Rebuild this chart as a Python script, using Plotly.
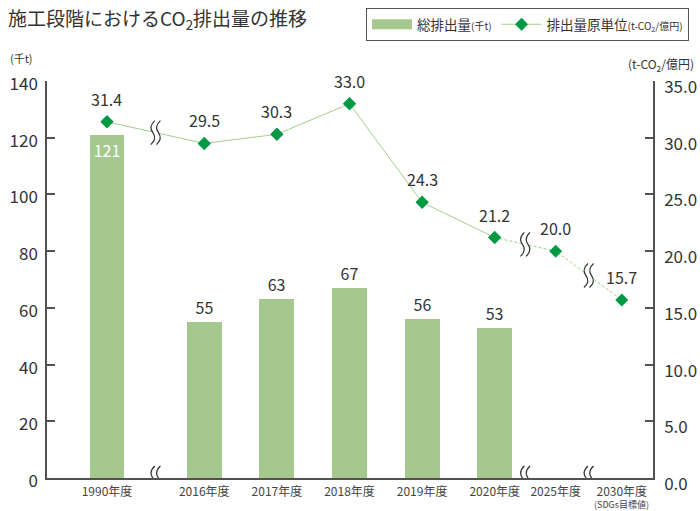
import plotly.graph_objects as go

# ---- data ----
categories = ["1990年度", "2016年度", "2017年度", "2018年度", "2019年度", "2020年度", "2025年度", "2030年度"]
tick_labels = ["1990年度", "2016年度", "2017年度", "2018年度", "2019年度", "2020年度", "2025年度", "2030年度"]
target_note = "(SDGs目標値)"
total_emissions = [121, 55, 63, 67, 56, 53]          # 千t (1990, 2016-2020)
intensity = [31.4, 29.5, 30.3, 33.0, 24.3, 21.2, 20.0, 15.7]  # t-CO2/億円
slot_pos = [0, 1.34, 2.34, 3.34, 4.34, 5.34, 6.18, 7.09]      # x slots (with axis breaks)

# ---- style ----
FONT = "Noto Sans CJK JP, Noto Sans, sans-serif"
TXT = "#333333"
AX = "#555050"
BAR = "#a5c88e"
LINE = "#a3d08a"
MARK = "#009a44"

L, R, T, B = 47, 47, 81, 33
W, H = 700, 511
pw, ph = W - L - R, H - T - B

def px_x(p):
    return (p - L) / pw

def px_y(p):
    return (H - B - p) / ph

fig = go.Figure()

n_bar = len(total_emissions)
bar_name = "総排出量<span style='font-size:10px'>(千t)</span>"
fig.add_trace(go.Bar(
    x=slot_pos[:n_bar], y=total_emissions, width=0.48,
    marker=dict(color=BAR, line=dict(width=0)),
    text=[str(v) for v in total_emissions],
    textposition=["inside"] + ["outside"] * (n_bar - 1),
    insidetextanchor="end",
    insidetextfont=dict(color="white", size=16, family=FONT),
    outsidetextfont=dict(color=TXT, size=16, family=FONT),
    textangle=0, constraintext="none", cliponaxis=False,
    name=bar_name, showlegend=False, legendgroup="bar",
    hoverinfo="skip",
))
# legend proxy for the bar series (wide rectangle swatch)
fig.add_trace(go.Scatter(
    x=[None], y=[None], mode="lines", line=dict(color=BAR, width=10),
    name=bar_name, legendgroup="bar", hoverinfo="skip",
))

# dashed part (2020 -> 2025 -> 2030)
fig.add_trace(go.Scatter(
    x=slot_pos[n_bar - 1:], y=intensity[n_bar - 1:], yaxis="y2",
    mode="lines", line=dict(color=LINE, width=1, dash="3px,2px"),
    showlegend=False, hoverinfo="skip",
))
# solid part
fig.add_trace(go.Scatter(
    x=slot_pos[:n_bar], y=intensity[:n_bar], yaxis="y2",
    mode="lines+markers", line=dict(color=LINE, width=1),
    marker=dict(symbol="diamond", size=10, color=MARK),
    name="排出量原単位<span style='font-size:10px'>(t-CO<sub>2</sub>/億円)</span>",
    hoverinfo="skip",
))
# all markers
fig.add_trace(go.Scatter(
    x=slot_pos, y=intensity, yaxis="y2", mode="markers",
    marker=dict(symbol="diamond", size=10, color=MARK),
    showlegend=False, hoverinfo="skip", cliponaxis=False,
))

annotations = []
for xp, v in zip(slot_pos, intensity):
    annotations.append(dict(x=xp, y=v, xref="x", yref="y2", text=f"{v:.1f}",
                            showarrow=False, yshift=23,
                            font=dict(size=16, color=TXT, family=FONT)))

annotations.append(dict(x=px_x(8), y=px_y(58), xref="paper", yref="paper",
                        text="(千t)", showarrow=False, xanchor="left", yanchor="middle",
                        font=dict(size=11, color=TXT, family=FONT)))
annotations.append(dict(x=px_x(696), y=px_y(64), xref="paper", yref="paper",
                        text="(t-CO<sub>2</sub>/億円)", showarrow=False, xanchor="right",
                        yanchor="middle", font=dict(size=12, color=TXT, family=FONT)))
annotations.append(dict(x=slot_pos[-1], y=px_y(504.5), xref="x", yref="paper",
                        text=target_note, showarrow=False, yanchor="middle",
                        font=dict(size=9, color="#444444", family=FONT)))

# ---- break marks ----
def squiggle(xa, ya, yref):
    base = dict(type="path", xref="x", yref=yref, xsizemode="pixel", ysizemode="pixel",
                xanchor=xa, yanchor=ya, layer="above")
    shapes = [dict(base, path="M -3 -3 L 3 -3 L 3 3 L -3 3 Z", fillcolor="white",
                   line=dict(width=0))]
    for dx in (-2.8, 2.8):
        shapes.append(dict(base,
                           path=f"M {dx+2} 12 Q {dx-4.5} 6 {dx} 0 Q {dx+4.5} -6 {dx-2} -12",
                           line=dict(color="#333333", width=1.2)))
    return shapes

shapes = []
for i in (0, n_bar - 1, n_bar):
    xm = (slot_pos[i] + slot_pos[i + 1]) / 2
    ym = (intensity[i] + intensity[i + 1]) / 2
    shapes += squiggle(xm, 0, "y")
    shapes += squiggle(xm, ym, "y2")

fig.update_layout(
    width=W, height=H,
    margin=dict(l=L, r=R, t=T, b=B, autoexpand=False),
    paper_bgcolor="white", plot_bgcolor="white",
    font=dict(family=FONT, color=TXT),
    title=dict(text="施工段階におけるCO<sub>2</sub>排出量の推移",
               x=8 / W, xanchor="left", xref="container",
               y=1 - 19 / H, yanchor="middle", yref="container",
               font=dict(size=19, color=TXT, family=FONT)),
    showlegend=True,
    legend=dict(orientation="h", xref="container", yref="container",
                x=366 / W, y=1 - 8 / H, xanchor="left", yanchor="top",
                bordercolor="#555555", borderwidth=1, bgcolor="white",
                font=dict(size=13.5, color=TXT, family=FONT),
                itemwidth=40, traceorder="normal"),
    xaxis=dict(range=[-0.826, 7.52], tickvals=slot_pos, ticktext=tick_labels,
               showline=True, linecolor=AX, linewidth=1.5, ticks="",
               showgrid=False, zeroline=False, ticklabelstandoff=2,
               tickfont=dict(size=12, color="#444444", family=FONT)),
    yaxis=dict(range=[0, 140], dtick=20, ticks="inside", ticklen=8, tickcolor=AX, tickwidth=1.5,
               showline=True, linecolor=AX, linewidth=1.5, showgrid=False, zeroline=False,
               tickfont=dict(size=17, color=TXT, family=FONT), ticklabelstandoff=4,
               ticklabelshift=3),
    yaxis2=dict(range=[0, 35], dtick=5, tickformat=".1f", overlaying="y", side="right",
                ticks="inside", ticklen=8, tickcolor=AX, tickwidth=1.5,
                showline=True, linecolor=AX, linewidth=1.5, showgrid=False, zeroline=False,
                tickfont=dict(size=17, color=TXT, family=FONT), ticklabelstandoff=6,
                ticklabelshift=6),
    annotations=annotations,
    shapes=shapes,
    bargap=0,
)

fig.write_html("out.html", config={"displayModeBar": False},
               post_script="document.body.style.margin='0';document.body.style.overflow='hidden';")
